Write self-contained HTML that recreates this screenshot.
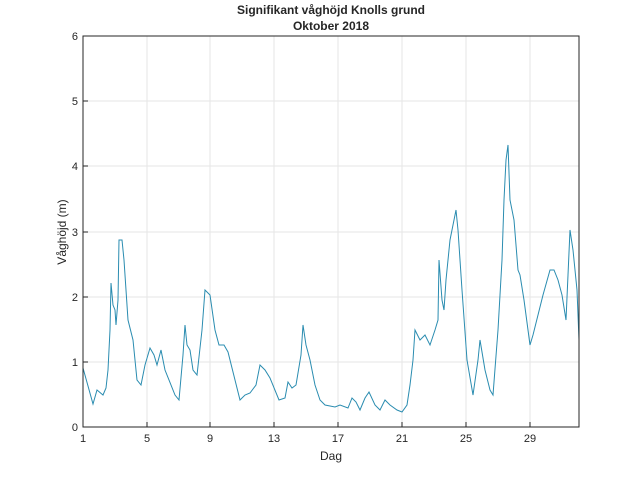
<!DOCTYPE html>
<html><head><style>body{margin:0;background:#fff}svg{display:block}text{font-family:"Liberation Sans",sans-serif;fill:#262626}</style></head>
<body>
<svg width="640" height="480" viewBox="0 0 640 480">
<rect width="640" height="480" fill="#fff"/>
<g stroke="#e6e6e6" stroke-width="1">
<line x1="147" y1="36" x2="147" y2="427"/><line x1="210" y1="36" x2="210" y2="427"/><line x1="274" y1="36" x2="274" y2="427"/><line x1="338" y1="36" x2="338" y2="427"/><line x1="402" y1="36" x2="402" y2="427"/><line x1="466" y1="36" x2="466" y2="427"/><line x1="530" y1="36" x2="530" y2="427"/>
<line x1="83" y1="362" x2="579" y2="362"/><line x1="83" y1="297" x2="579" y2="297"/><line x1="83" y1="232" x2="579" y2="232"/><line x1="83" y1="166" x2="579" y2="166"/><line x1="83" y1="101" x2="579" y2="101"/>
</g>
<polyline fill="none" stroke="#2a8cb0" stroke-width="1" points="83,368 93,404 97,390 103,395 106,388 108,370 110,330 111,283 113,305 115,310 116,325 118,300 119,240 122,240 124,260 128,320 133,340 137,380 141,385 145,365 150,348 154,355 157,365 161,350 165,370 175,395 179,400 183,355 185,325 187,345 190,350 193,370 197,375 202,330 205,290 210,295 215,330 219,345 224,345 228,352 235,380 240,400 245,395 250,393 256,385 260,365 265,370 270,378 279,400 285,398 288,382 292,388 296,385 301,355 303,325 306,345 310,360 315,385 320,400 325,405 335,407 340,405 348,408 352,398 356,402 360,410 365,398 369,392 375,405 380,410 385,400 390,405 397,410 402,412 407,405 410,385 413,360 415,330 420,340 425,335 430,345 435,330 438,320 439,260 442,300 444,310 446,280 450,240 454,220 456,210 458,230 462,290 467,360 473,395 478,360 480,340 485,370 490,390 493,395 498,330 502,260 504,200 506,160 508,145 510,200 514,220 518,270 520,275 524,300 530,345 533,335 538,315 543,295 550,270 554,270 558,280 562,295 566,320 570,230 573,250 577,290 579,340"/>
<rect x="83" y="36" width="496" height="391" fill="none" stroke="#262626" stroke-width="1"/>
<g stroke="#262626">
<line x1="147" y1="427" x2="147" y2="422"/><line x1="210" y1="427" x2="210" y2="422"/><line x1="274" y1="427" x2="274" y2="422"/><line x1="338" y1="427" x2="338" y2="422"/><line x1="402" y1="427" x2="402" y2="422"/><line x1="466" y1="427" x2="466" y2="422"/><line x1="530" y1="427" x2="530" y2="422"/>
<line x1="83" y1="362" x2="88" y2="362"/><line x1="83" y1="297" x2="88" y2="297"/><line x1="83" y1="232" x2="88" y2="232"/><line x1="83" y1="166" x2="88" y2="166"/><line x1="83" y1="101" x2="88" y2="101"/>
</g>
<g font-size="11" text-anchor="middle">
<text x="83" y="442">1</text><text x="147" y="442">5</text><text x="210" y="442">9</text><text x="274" y="442">13</text><text x="338" y="442">17</text><text x="402" y="442">21</text><text x="466" y="442">25</text><text x="530" y="442">29</text>
</g>
<g font-size="11" text-anchor="end">
<text x="78" y="431">0</text><text x="78" y="366">1</text><text x="78" y="301">2</text><text x="78" y="236">3</text><text x="78" y="170">4</text><text x="78" y="105">5</text><text x="78" y="40">6</text>
</g>
<text x="331" y="460" font-size="12" text-anchor="middle">Dag</text>
<text transform="translate(66,232) rotate(-90)" font-size="12" text-anchor="middle">Våghöjd (m)</text>
<text x="331" y="14" font-size="12" font-weight="bold" text-anchor="middle">Signifikant våghöjd Knolls grund</text>
<text x="331" y="30" font-size="12" font-weight="bold" text-anchor="middle">Oktober 2018</text>
</svg>
</body></html>
